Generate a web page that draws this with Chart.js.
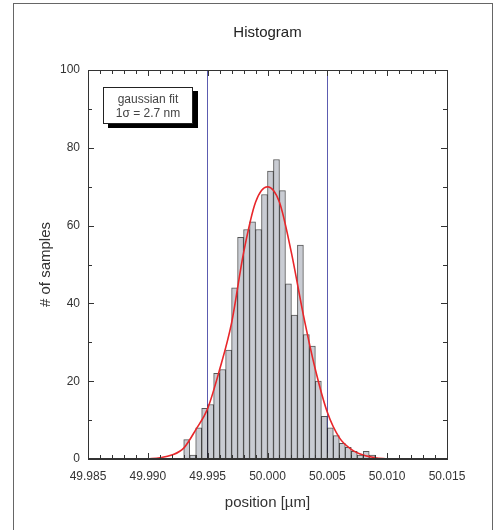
<!DOCTYPE html>
<html>
<head>
<meta charset="utf-8">
<script src="https://cdn.jsdelivr.net/npm/chart.js@4.4.0/dist/chart.umd.min.js"></script>
<style>
  html, body { margin: 0; padding: 0; background: #fff; overflow: hidden; }
  #wrap { position: relative; width: 499px; height: 530px; }
  #frame { position: absolute; left: 13px; top: 3px; width: 478px; height: 600px; border: 1.5px solid #666; }
  #chart { position: absolute; left: 0; top: 0; }
  #fitbox {
    position: absolute; left: 103px; top: 87px; width: 90px; height: 37px;
    border: 1px solid #222; background: #fff; box-shadow: 5px 4px 0 #000;
    font: 12px "Liberation Sans", Arial, sans-serif; color: #444;
    text-align: center; line-height: 14px; padding-top: 4px; box-sizing: border-box;
  }
</style>
</head>
<body>
<div id="wrap">
  <div id="frame"></div>
  <canvas id="chart" width="499" height="530"></canvas>
  <div id="fitbox">gaussian fit<br>1σ = 2.7 nm</div>
</div>
<script>
// histogram bins (centre of bin, µm) and counts
const binCenters = [
  49.99325, 49.99375, 49.99425, 49.99475, 49.99525, 49.99575, 49.99625, 49.99675,
  49.99725, 49.99775, 49.99825, 49.99875, 49.99925, 49.99975, 50.00025, 50.00075,
  50.00125, 50.00175, 50.00225, 50.00275, 50.00325, 50.00375, 50.00425, 50.00475,
  50.00525, 50.00575, 50.00625, 50.00675, 50.00725, 50.00775, 50.00825, 50.00875
];
const counts = [
  5, 1, 8, 13, 14, 22, 23, 28,
  44, 57, 59, 61, 59, 68, 74, 77,
  69, 45, 37, 55, 32, 29, 20, 11,
  8, 6, 4, 3, 2, 1, 2, 1
];

// gaussian fit curve
const fitX = [
  49.990, 49.991, 49.992, 49.993, 49.994, 49.995, 49.996, 49.997, 49.998, 49.999, 50.000,
  50.001, 50.002, 50.003, 50.004, 50.005, 50.006, 50.007, 50.008, 50.009, 50.010
];
const fitY = [
  0, 0.3, 1, 2.8, 7.5, 13, 23, 35, 53, 66, 70,
  66, 53, 37, 23, 12, 5.5, 2.5, 1, 0.3, 0
];

// ±1σ style markers
const markerLines = [49.995, 50.005];

const xMin = 49.985, xMax = 50.015;
const yMin = 0, yMax = 100;

const font = '"Liberation Sans", Arial, sans-serif';

// box round the plot with small inward ticks
const frameTicks = {
  id: 'frameTicks',
  afterDatasetsDraw(chart) {
    const { ctx, chartArea: a, scales: { x, y } } = chart;
    ctx.save();
    ctx.strokeStyle = '#333';
    ctx.lineWidth = 1;
    ctx.strokeRect(a.left + 0.5, a.top + 0.5, a.right - a.left, a.bottom - a.top);
    ctx.lineWidth = 2;
    ctx.beginPath();
    ctx.moveTo(a.left, a.bottom);
    ctx.lineTo(a.right, a.bottom);
    ctx.stroke();

    ctx.lineWidth = 1;
    ctx.beginPath();
    for (let i = 0; i <= 30; i++) {
      const px = Math.round(x.getPixelForValue(xMin + i * 0.001)) + 0.5;
      const len = i % 5 === 0 ? 6 : 4;
      ctx.moveTo(px, a.bottom);
      ctx.lineTo(px, a.bottom - len);
      ctx.moveTo(px, a.top);
      ctx.lineTo(px, a.top + len);
    }
    for (let i = 0; i <= 10; i++) {
      const py = Math.round(y.getPixelForValue(i * 10)) + 0.5;
      const len = i % 2 === 0 ? 6 : 4;
      ctx.moveTo(a.left, py);
      ctx.lineTo(a.left + len, py);
      ctx.moveTo(a.right, py);
      ctx.lineTo(a.right - len, py);
    }
    ctx.stroke();
    ctx.restore();
  }
};

function isMarker(ctx) {
  return ctx.tick && markerLines.some(m => Math.abs(ctx.tick.value - m) < 1e-6);
}

new Chart(document.getElementById('chart'), {
  type: 'bar',
  data: {
    datasets: [
      {
        type: 'line',
        label: 'gaussian fit',
        data: fitX.map((v, i) => ({ x: v, y: fitY[i] })),
        borderColor: '#e8262a',
        borderWidth: 1.6,
        pointRadius: 0,
        tension: 0.4,
        cubicInterpolationMode: 'monotone',
        order: 0
      },
      {
        label: '# of samples',
        data: binCenters.map((v, i) => ({ x: v, y: counts[i] })),
        backgroundColor: '#c9ccd3',
        borderColor: 'rgba(30,30,30,0.75)',
        borderWidth: 1,
        barPercentage: 1,
        categoryPercentage: 1,
        order: 1
      }
    ]
  },
  options: {
    responsive: false,
    animation: false,
    devicePixelRatio: 1,
    layout: { padding: { left: 0, right: 52, top: 0, bottom: 0 } },
    plugins: {
      legend: { display: false },
      tooltip: { enabled: false },
      title: {
        display: true,
        fullSize: false,
        text: 'Histogram',
        color: '#222',
        font: { family: font, size: 15, weight: 'normal' },
        padding: { top: 24, bottom: 28 }
      }
    },
    scales: {
      x: {
        type: 'linear',
        min: xMin,
        max: xMax,
        offset: false,
        afterFit(scale) { scale.height = 71; },
        ticks: {
          stepSize: 0.005,
          padding: 10,
          color: '#333',
          font: { family: font, size: 12 },
          maxRotation: 0,
          callback: v => Number(v).toFixed(3)
        },
        grid: {
          offset: false,
          drawTicks: false,
          lineWidth: 1,
          color: ctx => isMarker(ctx) ? '#5c5cb0' : 'rgba(0,0,0,0)'
        },
        border: { display: false },
        title: {
          display: true,
          text: 'position [µm]',
          color: '#333',
          font: { family: font, size: 15 },
          padding: { top: 4, bottom: 18 }
        }
      },
      y: {
        min: yMin,
        max: yMax,
        afterFit(scale) { scale.width = 88; },
        ticks: {
          stepSize: 20,
          padding: 8,
          color: '#333',
          font: { family: font, size: 12 }
        },
        grid: { display: false, drawTicks: false },
        border: { display: false },
        title: {
          display: true,
          text: '# of samples',
          color: '#333',
          font: { family: font, size: 15 },
          padding: { top: 37, bottom: 4 }
        }
      }
    }
  },
  plugins: [frameTicks]
});
</script>
</body>
</html>
